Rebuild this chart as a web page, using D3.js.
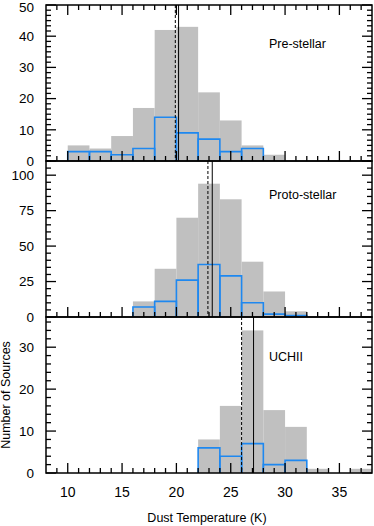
<!DOCTYPE html>
<html><head><meta charset="utf-8">
<script src="https://cdn.jsdelivr.net/npm/d3@7"></script>
<style>body{margin:0;background:#fff}svg{display:block;font-family:"Liberation Sans",Arial,sans-serif}</style>
</head><body><svg id="c" width="374" height="526"></svg>
<script>
const binStarts = [10,12,14,16,18,20,22,24,26,28,30,32,34,36];
const binWidth = 2;
const panelNames = ["Pre-stellar","Proto-stellar","UCHII"];
const preAll   = [5,4,8,17,42,43,22,13,5,2,0,0,0,0];
const preSub   = [3,3,2,4,14,9,7,3,4,0,0,0,0,0];
const protoAll = [0,0,0,11,34,70,94,83,39,18,4,0,0,0];
const protoSub = [0,0,0,7,11,26,37,29,10,2,1,0,0,0];
const uchiiAll = [0,0,0,0,0,0,8,16,34,15,11,1,0,1];
const uchiiSub = [0,0,0,0,0,0,6,4,7,2,3,0,0,0];
const medianDashed = [19.9, 22.9, 26.0];
const medianSolid  = [20.2, 23.3, 27.1];
const yMax = [50, 110, 37.2];
const yMajor = [[0,10,20,30,40,50],[0,25,50,75,100],[0,10,20,30]];
const yMinorStep = [10/6, 5, 2];
const xTicks = [10,15,20,25,30,35];

const svg = d3.select("#c");
const L = 46, R = 372, T0 = 5, PH = 156;
const x = d3.scaleLinear().domain([8,38]).range([L,R]);
const allData = [preAll, protoAll, uchiiAll];
const subData = [preSub, protoSub, uchiiSub];

for (let p = 0; p < 3; p++) {
  const top = T0 + p*PH, bot = top + PH;
  const y = d3.scaleLinear().domain([0, yMax[p]]).range([bot, top]);
  const g = svg.append("g");
  g.selectAll("rect.all").data(binStarts.map((s,i)=>({s,v:allData[p][i]})).filter(d=>d.v>0))
    .enter().append("rect")
    .attr("x", d=>x(d.s)).attr("width", d=>x(d.s+binWidth)-x(d.s))
    .attr("y", d=>y(d.v)).attr("height", d=>y(0)-y(d.v))
    .attr("fill", "#c0c0c0");
  g.selectAll("path.sub").data(binStarts.map((s,i)=>({s,v:subData[p][i]})).filter(d=>d.v>0))
    .enter().append("path")
    .attr("d", d=>`M${x(d.s)},${y(0)}V${y(d.v)}H${x(d.s+binWidth)}V${y(0)}`)
    .attr("fill","none").attr("stroke","#1e88f0").attr("stroke-width",1.6);
  g.append("line").attr("x1",x(medianDashed[p])).attr("x2",x(medianDashed[p]))
    .attr("y1",top).attr("y2",bot).attr("stroke","#000").attr("stroke-width",1).attr("stroke-dasharray","3,2");
  g.append("line").attr("x1",x(medianSolid[p])).attr("x2",x(medianSolid[p]))
    .attr("y1",top).attr("y2",bot).attr("stroke","#000").attr("stroke-width",1);

  const xMinor = d3.range(9,38,1).filter(v=>!xTicks.includes(v));
  const tk = svg.append("g").attr("stroke","#000").attr("stroke-width",1.3);
  const drawX = (vals, len, atY, dir) => vals.forEach(v=>{
    tk.append("line").attr("x1",x(v)).attr("x2",x(v)).attr("y1",atY).attr("y2",atY+dir*len);
  });
  drawX(xTicks, 10, bot, -1);
  drawX(xMinor, 5, bot, -1);
  if (p === 0) { drawX(xTicks, 10, top, 1); drawX(xMinor, 5, top, 1); }
  const yMinor = [];
  for (let v = 0; v <= yMax[p]+1e-6; v += yMinorStep[p]) {
    if (!yMajor[p].some(m=>Math.abs(m-v)<1e-6)) yMinor.push(v);
  }
  const drawY = (vals, len) => vals.forEach(v=>{
    tk.append("line").attr("x1",L).attr("x2",L+len).attr("y1",y(v)).attr("y2",y(v));
    tk.append("line").attr("x1",R).attr("x2",R-len).attr("y1",y(v)).attr("y2",y(v));
  });
  drawY(yMajor[p], 10);
  drawY(yMinor, 5);
  svg.append("rect").attr("x",L).attr("y",top).attr("width",R-L).attr("height",PH)
    .attr("fill","none").attr("stroke","#000").attr("stroke-width",1.5);
  svg.append("g").selectAll("text").data(yMajor[p]).enter().append("text")
    .attr("x",34).attr("y",d=>Math.max(y(d), 7)).attr("dy","0.36em").attr("text-anchor","end")
    .attr("font-size",13.5).attr("fill","#000").text(d=>d);
  svg.append("text").attr("x",269).attr("y",top + [43,38,44][p]).attr("font-size",12.5)
    .attr("fill","#000").text(panelNames[p]);
}
const bottom = T0 + 3*PH;
svg.append("g").selectAll("text").data(xTicks).enter().append("text")
  .attr("x",d=>x(d)).attr("y",bottom+24).attr("text-anchor","middle").attr("font-size",14).text(d=>d);
svg.append("text").attr("x",207).attr("y",522).attr("text-anchor","middle").attr("font-size",12.5).text("Dust Temperature (K)");
svg.append("text").attr("transform","translate(10,395) rotate(-90)").attr("text-anchor","middle").attr("font-size",12.5).text("Number of Sources");
</script></body></html>
